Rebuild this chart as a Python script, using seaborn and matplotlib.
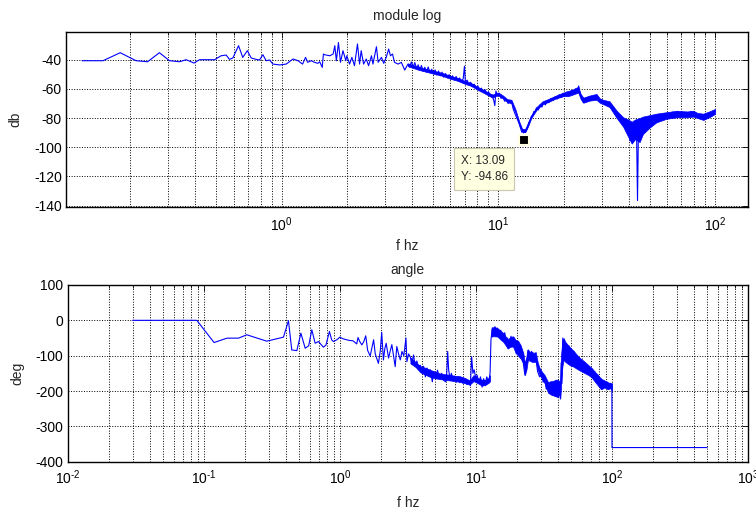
import numpy as np
import matplotlib
matplotlib.use("Agg")
import matplotlib.pyplot as plt
import seaborn as sns
from matplotlib.ticker import LogLocator, NullFormatter, FuncFormatter

# ---------------- magnitude response (dB) ----------------
mag_freq = [
    0.120, 0.150, 0.180, 0.213, 0.241, 0.273, 0.304, 0.338, 0.363, 0.394,
    0.418, 0.491, 0.526, 0.555, 0.575, 0.596, 0.633, 0.662, 0.695, 0.724,
    0.764, 0.791, 0.820, 0.849, 0.881, 0.912, 0.980, 1.05, 1.13, 1.19,
    1.25, 1.29, 1.32, 1.37, 1.42, 1.47, 1.50, 1.54, 1.56, 1.58,
    1.67, 1.73, 1.76, 1.79, 1.83, 1.87, 1.92, 1.98, 2.00, 2.06,
    2.11, 2.17, 2.24, 2.29, 2.33, 2.39, 2.46, 2.52, 2.60, 2.64,
    2.74, 2.79, 2.89, 2.96, 3.04, 3.12, 3.18, 3.25, 3.32, 3.45,
    3.57, 3.70, 3.83, 3.90, 3.97, 4.05, 4.12, 4.20, 4.27, 4.34,
    4.42, 4.50, 4.58, 4.66, 4.75, 4.84, 4.93, 5.02, 5.11, 5.20,
    5.30, 5.40, 5.50, 5.60, 5.71, 5.82, 5.93, 6.04, 6.15, 6.27,
    6.39, 6.51, 6.63, 6.76, 6.89, 6.98, 7.05, 7.18, 7.32, 7.46,
    7.60, 7.75, 7.90, 8.05, 8.20, 8.36, 8.52, 8.68, 8.85, 9.02,
    9.19, 9.37, 9.55, 9.64, 9.75, 9.90, 10.1, 10.3, 10.5, 10.7,
    10.9, 11.1, 11.3, 11.5, 11.7, 11.9, 12.1, 12.3, 12.5, 12.7,
    12.85, 13.0, 13.09, 13.2, 13.35, 13.5, 13.65, 13.8, 14.0, 14.2,
    14.4, 14.6, 14.8, 15.0, 15.3, 15.6, 15.9, 16.2, 16.5, 16.8,
    17.1, 17.5, 17.9, 18.3, 18.7, 19.1, 19.5, 19.9, 20.3, 20.8,
    21.3, 21.8, 22.3, 22.8, 23.3, 23.5, 23.8, 24.2, 24.7, 25.2,
    25.8, 26.4, 27.0, 27.7, 28.4, 29.0, 29.7, 30.4, 31.2, 32.0,
    32.8, 33.6, 34.4, 35.2, 36.0, 36.8, 37.6, 38.4, 39.2, 40.0,
    40.5, 41.0, 41.5, 42.0, 42.5, 43.0, 43.5, 43.9, 44.3, 44.8,
    45.3, 46.0, 46.8, 47.6, 48.4, 49.3, 50.2, 51.2, 52.2, 53.4,
    54.6, 55.8, 57.0, 58.3, 59.6, 61.0, 62.4, 63.9, 65.4, 67.0,
    68.6, 70.3, 72.0, 73.8, 75.6, 77.5, 79.4, 81.4, 83.4, 85.5,
    87.6, 89.8, 92.0, 94.3, 96.7, 100.0,
]
mag_db = [
    -40.7, -40.7, -35.2, -40.7, -41.4, -35.2, -40.7, -41.4, -40.0, -42.3,
    -40.0, -40.0, -37.3, -36.8, -39.8, -38.8, -30.4, -38.4, -33.8, -38.8,
    -39.8, -40.2, -36.6, -40.7, -40.2, -43.0, -43.6, -43.0, -39.5, -40.7,
    -43.0, -38.4, -41.8, -40.7, -41.8, -42.5, -41.4, -45.3, -36.1, -36.6,
    -37.3, -36.1, -30.4, -40.7, -28.2, -41.8, -33.8, -40.7, -37.3, -43.0,
    -38.4, -44.1, -29.2, -43.0, -33.8, -43.0, -39.5, -44.1, -37.3, -43.0,
    -31.1, -41.8, -38.4, -42.5, -38.4, -32.7, -37.3, -36.1, -41.8, -43.0,
    -41.8, -47.1, -43.0, -45.0, -41.5, -44.8, -42.0, -46.2, -43.5, -47.0,
    -44.0, -47.8, -45.2, -48.5, -45.0, -48.9, -46.5, -49.8, -47.0, -50.5,
    -47.8, -51.0, -48.5, -52.0, -49.5, -52.5, -50.2, -53.5, -51.0, -54.0,
    -51.5, -54.5, -52.5, -55.0, -53.0, -44.5, -55.5, -54.0, -57.0, -55.5,
    -58.5, -56.8, -59.5, -58.0, -61.0, -59.5, -62.0, -60.5, -63.5, -62.0,
    -65.0, -64.0, -68.5, -71.5, -61.5, -64.0, -63.0, -66.5, -65.5, -68.5,
    -67.5, -70.0, -69.0, -68.0, -73.5, -76.5, -79.0, -81.5, -84.0, -87.5,
    -89.8, -88.0, -90.2, -89.0, -90.0, -88.5, -86.0, -83.5, -81.5, -79.0,
    -78.5, -75.5, -76.0, -73.0, -74.5, -71.0, -72.5, -69.5, -71.0, -68.0,
    -69.5, -66.5, -68.0, -65.5, -67.0, -64.0, -66.0, -63.0, -65.0, -62.0,
    -64.5, -61.0, -63.5, -60.0, -62.5, -58.0, -63.0, -66.0, -69.5, -66.5,
    -68.5, -65.5, -67.0, -64.5, -65.5, -67.5, -68.0, -69.0, -70.0, -70.5,
    -72.0, -73.0, -74.5, -76.0, -78.0, -80.0, -82.0, -84.0, -88.0, -86.0,
    -95.5, -89.0, -97.0, -90.0, -94.0, -87.0, -93.0, -136.6, -92.0, -88.0,
    -95.0, -86.0, -90.0, -83.5, -86.0, -81.5, -84.0, -80.0, -82.5, -79.0,
    -81.0, -78.0, -80.0, -77.0, -79.0, -76.5, -78.5, -76.0, -78.0, -75.5,
    -77.5, -76.0, -78.0, -76.0, -78.0, -75.5, -77.5, -76.5, -78.5, -78.0,
    -80.0, -78.5, -79.0, -76.5, -77.5, -75.0,
]
# spread of the dense noise above 3.8 Hz
mag_band_freq = [3.83, 4.3, 5.0, 5.5, 6.0, 6.5, 7.0, 7.5, 8.0, 8.5,
                 9.0, 9.4, 9.7, 10.0, 10.5, 11.0, 11.5, 12.0, 12.5, 12.9,
                 13.3, 13.7, 14.2, 15.0, 16.0, 17.0, 18.5, 20.0, 21.0, 22.0,
                 23.4, 24.0, 24.7, 26.5, 28.4, 29.4, 30.5, 32.6, 35.2, 37.7,
                 39.8, 41.3, 42.8, 44.9, 46.5, 50.0, 53.6, 59.7, 66.5, 74.2,
                 79.4, 83.0, 88.3, 94.0, 100.0]
mag_band_hi = [-42.5, -45.0, -47.5, -49.0, -51.0, -52.5, -54.5, -56.0, -58.5, -60.5,
               -62.5, -64.0, -63.0, -62.5, -64.5, -67.0, -67.5, -74.0, -82.5, -87.5,
               -87.5, -83.5, -78.0, -72.5, -68.5, -67.0, -64.5, -62.5, -61.5, -60.5,
               -58.5, -63.5, -66.0, -64.5, -63.5, -66.5, -67.5, -68.5, -75.0, -79.5,
               -81.0, -82.5, -81.0, -80.0, -79.0, -78.0, -77.0, -76.0, -75.0, -75.5,
               -75.0, -76.5, -77.0, -75.5, -73.8]
mag_band_lo = [-44.5, -47.0, -49.5, -51.0, -53.0, -54.5, -56.5, -58.0, -60.5, -62.5,
               -64.5, -66.0, -65.0, -64.5, -66.5, -69.0, -70.0, -76.5, -85.0, -89.5,
               -89.5, -86.0, -80.0, -74.5, -70.5, -69.0, -66.5, -65.0, -65.0, -64.0,
               -62.5, -67.0, -69.5, -68.0, -67.5, -69.5, -70.5, -72.5, -80.0, -86.0,
               -93.0, -97.5, -94.5, -96.5, -91.0, -86.5, -83.0, -80.5, -79.5, -79.5,
               -79.0, -80.0, -81.3, -79.5, -77.2]

# ---------------- phase response (deg) ----------------
phase_freq = [
    0.030, 0.0888, 0.119, 0.148, 0.180, 0.207, 0.290, 0.385, 0.419, 0.443,
    0.483, 0.517, 0.556, 0.590, 0.622, 0.658, 0.696, 0.757, 0.790, 0.838,
    0.870, 0.897, 0.950, 1.00, 1.05, 1.12, 1.18, 1.25, 1.33, 1.36,
    1.40, 1.45, 1.50, 1.55, 1.60, 1.67, 1.72, 1.77, 1.82, 1.92,
    1.98, 2.03, 2.09, 2.14, 2.19, 2.28, 2.35, 2.41, 2.48, 2.55,
    2.62, 2.70, 2.78, 2.86, 2.95, 3.06, 3.11, 3.20, 3.29, 3.38,
    3.48, 3.58, 3.68, 3.79, 3.90, 4.02, 4.12, 4.25, 4.37, 4.50,
    4.62, 4.78, 4.90, 5.05, 5.22, 5.40, 5.60, 5.80, 6.00, 6.10,
    6.20, 6.30, 6.45, 6.60, 6.80, 7.00, 7.20, 7.40, 7.60, 7.80,
    8.00, 8.30, 8.60, 8.90, 9.10, 9.30, 9.50, 9.70, 10.0, 10.2,
    10.5, 10.8, 11.1, 11.4, 11.7, 12.0, 12.4, 12.7, 12.9, 13.2,
    13.5, 13.8, 14.1, 14.4, 14.8, 15.2, 15.8, 16.3, 16.7, 17.1,
    17.6, 18.1, 18.7, 19.2, 19.8, 20.4, 21.0, 21.6, 22.3, 22.9,
    23.4, 24.1, 24.8, 25.6, 26.5, 27.4, 28.4, 29.4, 30.4, 31.2,
    32.0, 32.9, 33.9, 34.8, 35.8, 36.7, 37.6, 38.6, 39.5, 40.5,
    41.1, 41.7, 42.3, 42.8, 43.5, 44.1, 44.8, 45.5, 46.3, 47.2,
    48.2, 49.2, 50.2, 51.3, 52.5, 53.8, 55.0, 56.3, 57.6, 59.0,
    60.4, 62.0, 63.6, 65.3, 67.0, 68.8, 70.7, 72.6, 74.6, 76.7,
    78.8, 81.0, 83.2, 85.5, 87.8, 90.2, 92.6, 95.1, 97.6, 99.8,
    100.0, 500.0,
]
phase_deg = [
    0, 0, -62.9, -50.4, -50.4, -40.9, -59, -47.6, -1, -83.8,
    -85.7, -36.2, -79, -72, -26.7, -64.8, -60, -76, -70, -31.4,
    -55, -60, -55, -47.6, -52, -55, -57, -58, -66.7, -48.6,
    -60, -69.5, -60, -43.8, -85, -101, -78, -55, -95, -121.7,
    -88, -34, -112, -80, -65, -107, -85, -69, -100, -131,
    -74, -95, -112, -88, -100, -50, -117, -95, -103, -120,
    -98, -131, -115, -136, -127, -141, -130, -160, -135, -150,
    -140, -174, -145, -160, -141, -165, -150, -170, -174, -150,
    -88, -140, -165, -150, -172, -158, -175, -160, -176, -162,
    -178, -168, -182, -172, -185, -103, -150, -140, -165, -155,
    -175, -160, -189, -165, -185, -160, -174, -150, -55, -21,
    -42, -18, -40, -22, -45, -28, -55, -35, -70, -50,
    -78, -45, -70, -50, -95, -60, -100, -80, -120, -155,
    -130, -85, -110, -88, -115, -100, -145, -160, -150, -175,
    -165, -195, -180, -207, -185, -212, -180, -215, -175, -217,
    -190, -222, -120, -179, -50, -100, -60, -110, -65, -118,
    -72, -120, -85, -128, -88, -130, -100, -135, -105, -140,
    -118, -145, -125, -150, -130, -152, -138, -160, -145, -175,
    -155, -185, -165, -195, -172, -190, -175, -195, -178, -185,
    -360, -360,
]
# spread of the dense noise: below the jump near 13 Hz, and above it
phase_band1_freq = [3.3, 3.6, 3.9, 4.3, 4.6, 5.0, 5.4, 5.8, 6.4, 7.0,
                    7.6, 8.3, 9.0, 9.6, 10.2, 11.1, 11.8, 12.4, 12.7]
phase_band1_hi = [-105, -118, -130, -135, -140, -145, -150, -152, -154, -157,
                  -158, -163, -170, -155, -163, -168, -168, -163, -155]
phase_band1_lo = [-122, -132, -147, -155, -160, -164, -166, -168, -170, -172,
                  -174, -178, -182, -172, -177, -185, -182, -177, -172]
phase_band2_freq = [13.0, 13.5, 14.4, 15.2, 15.8, 16.5, 17.1, 17.8, 18.7, 19.5,
                    20.4, 21.3, 22.3, 22.9, 23.5, 24.1, 25.0, 25.6, 26.5, 27.5,
                    28.5, 29.4, 30.5, 32.0, 33.9, 35.5, 36.7, 38.5, 40.0, 41.0,
                    41.7, 42.3, 43.2, 44.1, 45.5, 47.0, 49.5, 52.1, 54.5, 57.4,
                    62.0, 67.2, 71.0, 75.0, 79.0, 83.0, 88.0, 93.0, 97.0, 100.0]
phase_band2_hi = [-25, -18, -22, -30, -35, -45, -55, -48, -45, -55,
                  -58, -70, -93, -120, -105, -82, -90, -88, -92, -90,
                  -120, -135, -145, -155, -175, -172, -172, -168, -168, -172,
                  -175, -95, -55, -50, -62, -68, -78, -86, -95, -105,
                  -115, -127, -135, -146, -155, -165, -170, -175, -178, -178]
phase_band2_lo = [-46, -45, -46, -55, -60, -70, -80, -75, -74, -90,
                  -100, -108, -122, -155, -140, -112, -115, -117, -118, -117,
                  -140, -155, -165, -178, -205, -210, -212, -215, -217, -205,
                  -222, -180, -130, -112, -118, -122, -128, -131, -136, -141,
                  -148, -155, -162, -174, -185, -195, -190, -195, -192, -198]

# data tip on the magnitude notch
tip_x = 13.09
tip_y = -94.86

sns.set_style("white")
plt.rcParams["font.family"] = ["Liberation Sans", "DejaVu Sans"]
plt.rcParams["axes.unicode_minus"] = False
plt.rcParams["mathtext.fontset"] = "custom"
plt.rcParams["mathtext.rm"] = "Liberation Sans"
plt.rcParams["mathtext.it"] = "Liberation Sans"
plt.rcParams["mathtext.bf"] = "Liberation Sans:bold"
plt.rcParams["mathtext.default"] = "regular"

FS = 10
TIP_FS = 8.5
LINE = "#0000FF"

fig = plt.figure(figsize=(7.56, 5.11), dpi=100)
ax1 = fig.add_axes([0.0873, 0.5949, 0.9021, 0.3425])
ax2 = fig.add_axes([0.0896, 0.0965, 0.8999, 0.3458])


def decade_label(v, pos):
    e = int(round(np.log10(v)))
    exp = str(e) if e >= 0 else r"\text{-}" + str(-e)
    return r"$10^{" + exp + "}$"


def matlab_axes(ax, xpad):
    ax.set_xscale("log")
    ax.xaxis.set_major_locator(LogLocator(base=10, numticks=20))
    ax.xaxis.set_major_formatter(FuncFormatter(decade_label))
    ax.xaxis.set_minor_locator(LogLocator(base=10, subs=np.arange(2, 10), numticks=100))
    ax.xaxis.set_minor_formatter(NullFormatter())
    ax.grid(True, which="both", axis="x", ls=":", color="black", lw=0.7)
    ax.grid(True, which="major", axis="y", ls=":", color="black", lw=0.7)
    ax.tick_params(which="both", direction="in", top=True, right=True,
                   labelsize=FS, colors="black", width=0.6)
    ax.tick_params(axis="x", which="major", pad=xpad)
    ax.tick_params(axis="y", which="major", pad=3)
    ax.tick_params(which="major", length=4)
    ax.tick_params(which="minor", length=2)
    for s in ax.spines.values():
        s.set_color("black")
        s.set_linewidth(1.0)
    ax.set_axisbelow(True)


# magnitude
sns.lineplot(x=mag_freq, y=mag_db, ax=ax1, color=LINE, linewidth=0.8,
             estimator=None, sort=False)
ax1.fill_between(mag_band_freq, mag_band_lo, mag_band_hi, color=LINE, lw=0.5)
matlab_axes(ax1, 6)
ax1.set_xlim(0.1012, 142)
ax1.set_ylim(-141, -21)
ax1.set_yticks([-140, -120, -100, -80, -60, -40])
ax1.set_title("module log", fontsize=FS, pad=8.5)
ax1.set_xlabel("f hz", fontsize=FS, labelpad=3.5)
ax1.set_ylabel("db", fontsize=FS, labelpad=8)

ax1.plot([tip_x], [tip_y], marker="s", ms=7, color="black",
         mec="#FFFFE1", mew=1.5, zorder=6)
ax1.annotate(f"X: {tip_x:.2f}\nY: {tip_y:.2f}", xy=(tip_x, tip_y),
             xytext=(-63, -15), textcoords="offset pixels",
             ha="left", va="top", fontsize=TIP_FS, linespacing=1.5, zorder=7,
             bbox=dict(boxstyle="square,pad=0.55", fc="#FFFFE1", ec="#C8C8B0", lw=0.8))

# phase
sns.lineplot(x=phase_freq, y=phase_deg, ax=ax2, color=LINE, linewidth=0.8,
             estimator=None, sort=False)
ax2.fill_between(phase_band1_freq, phase_band1_lo, phase_band1_hi, color=LINE, lw=0.5)
ax2.fill_between(phase_band2_freq, phase_band2_lo, phase_band2_hi, color=LINE, lw=0.5)
matlab_axes(ax2, 5)
ax2.set_xlim(0.01, 1000)
ax2.set_ylim(-400, 100)
ax2.set_yticks([-400, -300, -200, -100, 0, 100])
ax2.set_title("angle", fontsize=FS, pad=8)
ax2.set_xlabel("f hz", fontsize=FS, labelpad=6)
ax2.set_ylabel("deg", fontsize=FS, labelpad=8)

fig.savefig("out.png", dpi=100)
